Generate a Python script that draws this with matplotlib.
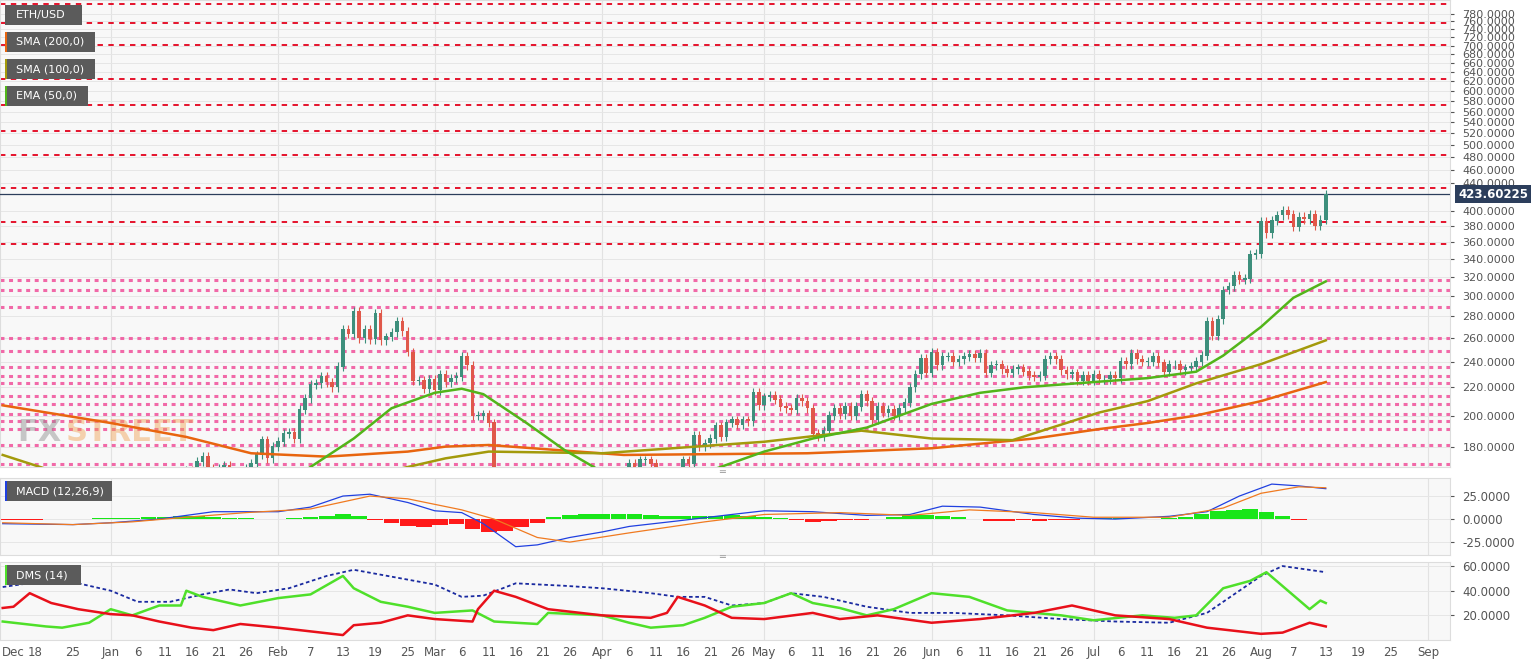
import numpy as np
import pandas as pd
import matplotlib
matplotlib.use("Agg")
import matplotlib.pyplot as plt
import matplotlib.dates as mdates
from matplotlib.patches import Rectangle

# daily closes ETH/USD, 2019-12-12 .. 2020-08-13
closes = [
    145, 142, 141, 132, 122, 133, 128, 128, 128, 127, 133, 128, 126, 125, 127, 126, 129, 134, 132, 129,
    130, 127, 134, 134, 136, 144, 143, 141, 138, 143, 146, 146, 144, 165, 166, 163, 171, 174, 167, 166,
    167, 169, 162, 162, 160, 167, 170, 175, 184, 173, 180,
    183, 188, 189, 185, 204, 212, 222, 223, 228, 224, 220, 236, 268, 264, 285, 260, 268, 259, 283, 258,
    261, 265, 275, 266, 248, 225, 225, 219, 226,
    218, 230, 224, 227, 228, 244, 237, 200, 200, 201, 195, 110, 132, 124, 123, 110, 117, 115, 133, 132,
    125, 136, 120, 136, 131, 138, 135, 130, 125, 130, 133,
    136, 141, 141, 142, 143, 170, 164, 172, 172, 170, 158, 160, 157, 154, 153, 172, 170, 187, 180, 182,
    185, 193, 186, 195, 197, 194, 197, 196, 216, 207,
    213, 214, 211, 206, 205, 204, 212, 210, 205, 188, 186, 190, 200, 205, 201, 206, 200, 206, 215, 210,
    197, 206, 202, 204, 200, 205, 209, 220, 230, 243, 231,
    248, 237, 244, 244, 240, 242, 244, 246, 243, 247, 231, 237, 238, 234, 231, 234, 235, 232, 229, 228,
    229, 242, 244, 242, 233, 230, 231, 225, 229, 225,
    230, 226, 226, 229, 227, 240, 238, 247, 242, 240, 240, 244, 239, 232, 238, 238, 233, 235, 236, 240,
    245, 275, 262, 277, 306, 310, 321, 317, 318, 345, 346,
    386, 371, 387, 394, 401, 395, 379, 392, 389, 395, 380, 388, 423.60225,
]
dates = pd.date_range("2019-12-12", periods=len(closes), freq="D")

sma200_d = ["2019-12-12", "2020-01-01", "2020-01-15", "2020-01-27", "2020-02-10", "2020-02-25", "2020-03-03",
            "2020-03-11", "2020-04-05", "2020-05-09", "2020-06-01", "2020-06-20", "2020-07-02", "2020-07-11",
            "2020-07-20", "2020-08-01", "2020-08-13"]
sma200_v = [207, 195, 186, 176, 174, 177, 180, 181, 175, 176, 179, 185, 191, 195, 200, 210, 224]
sma100_d = ["2019-12-12", "2019-12-22", "2020-01-15", "2020-02-10", "2020-02-25", "2020-03-03", "2020-03-11",
            "2020-04-01", "2020-05-01", "2020-05-19", "2020-06-01", "2020-06-16", "2020-07-02", "2020-07-11",
            "2020-07-20", "2020-08-01", "2020-08-13"]
sma100_v = [175, 165, 155, 158, 168, 173, 177, 176, 183, 190, 185, 184, 202, 210, 223, 238, 258]
ema50_d = ["2020-01-10", "2020-02-06", "2020-02-15", "2020-02-22", "2020-03-01", "2020-03-06", "2020-03-10",
           "2020-03-18", "2020-03-25", "2020-03-31", "2020-04-10", "2020-04-22", "2020-05-01", "2020-05-10",
           "2020-05-20", "2020-06-01", "2020-06-10", "2020-06-18", "2020-07-01", "2020-07-11", "2020-07-20",
           "2020-07-25", "2020-08-01", "2020-08-07", "2020-08-13"]
ema50_v = [145, 166, 185, 205, 216, 219, 215, 195, 178, 167, 155, 167, 177, 185, 192, 208, 216, 220, 224,
           227, 232, 245, 270, 298, 315]

red_levels = [805, 755, 702, 625, 572, 525, 484, 432, 385, 357]
pink_levels = [317, 306, 289, 260, 249, 236, 229, 223, 214, 208, 201, 196, 191, 181, 170]

macd_d = ["2019-12-12", "2019-12-25", "2020-01-01", "2020-01-10", "2020-01-20", "2020-01-26", "2020-02-01",
          "2020-02-07", "2020-02-13", "2020-02-18", "2020-02-25", "2020-03-01", "2020-03-06", "2020-03-10",
          "2020-03-16", "2020-03-20", "2020-03-26", "2020-04-01", "2020-04-06", "2020-04-15", "2020-04-25",
          "2020-05-01", "2020-05-10", "2020-05-20", "2020-05-28", "2020-06-03", "2020-06-10", "2020-06-20",
          "2020-06-28", "2020-07-05", "2020-07-15", "2020-07-22", "2020-07-28", "2020-08-03", "2020-08-08",
          "2020-08-13"]
macd_v = [-5, -6, -4, 0, 8, 8, 8, 13, 25, 27, 18, 9, 7, -5, -30, -28, -20, -14, -8, -2, 5, 9, 8, 4, 5, 14,
          13, 5, 1, 0, 3, 8, 25, 38, 36, 33]
signal_d = ["2019-12-12", "2019-12-25", "2020-01-05", "2020-01-15", "2020-01-26", "2020-02-07", "2020-02-18",
            "2020-02-25", "2020-03-06", "2020-03-12", "2020-03-20", "2020-03-26", "2020-04-06", "2020-04-20",
            "2020-05-01", "2020-05-15", "2020-05-28", "2020-06-08", "2020-06-20", "2020-07-01", "2020-07-15",
            "2020-07-25", "2020-08-01", "2020-08-08", "2020-08-13"]
signal_v = [-4, -6, -3, 2, 7, 11, 25, 22, 10, 0, -20, -25, -15, -3, 5, 7, 4, 10, 7, 2, 2, 12, 28, 35, 34]
# histogram, one bar every 3 days from 2019-12-12
hist_v = [-0.5, -0.5, -0.5, 0.3, 0.5, 0.5, 1, 1, 1.5, 2,
          2.5, 3, 3, 2, 1.5, 1, 0.5, 0.5, 1, 2,
          3, 5, 3, -1, -4, -8, -9, -6, -5, -11, -14, -13, -9, -4, 2, 4, 5, 5, 6, 6,
          4, 3, 3, 3, 3, 4, 3, 2, 1, -1, -3, -2, -1, -1, 0.5, 2, 4, 4, 3, 2,
          0, -2, -2, -1, -2, -1, -1, 0.5, 1, 1, 0.5, 0.5, 1, 2, 5, 9, 10, 11, 8, 3, -1]
hist_dates = pd.date_range("2019-12-12", periods=len(hist_v), freq="3D")

adx_d = ["2019-12-12", "2019-12-20", "2019-12-25", "2020-01-01", "2020-01-06", "2020-01-12", "2020-01-18",
         "2020-01-23", "2020-01-28", "2020-02-03", "2020-02-10", "2020-02-15", "2020-02-20", "2020-03-01",
         "2020-03-06", "2020-03-10", "2020-03-16", "2020-03-25", "2020-04-01", "2020-04-10", "2020-04-15",
         "2020-04-20", "2020-04-25", "2020-05-01", "2020-05-06", "2020-05-12", "2020-05-20", "2020-05-28",
         "2020-06-05", "2020-06-15", "2020-06-25", "2020-07-05", "2020-07-15", "2020-07-22", "2020-08-01",
         "2020-08-05", "2020-08-13"]
adx_v = [43, 48, 47, 40, 31, 31, 37, 41, 38, 42, 52, 57, 53, 45, 35, 36, 46, 44, 42, 38, 35, 35, 28, 30, 38,
         35, 27, 22, 22, 20, 17, 15, 14, 22, 52, 60, 55]
pdi_d = ["2019-12-12", "2019-12-20", "2019-12-23", "2019-12-28", "2020-01-01", "2020-01-05", "2020-01-10",
         "2020-01-14", "2020-01-15", "2020-01-18", "2020-01-25", "2020-02-01", "2020-02-07", "2020-02-09",
         "2020-02-13", "2020-02-15", "2020-02-20", "2020-02-25", "2020-03-01", "2020-03-08", "2020-03-12",
         "2020-03-20", "2020-03-22", "2020-04-01", "2020-04-06", "2020-04-10", "2020-04-16", "2020-04-20",
         "2020-04-25", "2020-05-01", "2020-05-06", "2020-05-10", "2020-05-15", "2020-05-20", "2020-05-25",
         "2020-06-01", "2020-06-08", "2020-06-15", "2020-06-25", "2020-07-01", "2020-07-10", "2020-07-16",
         "2020-07-20", "2020-07-25", "2020-07-30", "2020-08-02", "2020-08-06", "2020-08-10", "2020-08-12",
         "2020-08-13"]
pdi_v = [15, 11, 10, 14, 25, 20, 28, 28, 40, 35, 28, 34, 37, 42, 52, 42, 31, 27, 22, 24, 15, 13, 22, 20, 14,
         10, 12, 18, 27, 30, 38, 30, 26, 20, 25, 38, 35, 24, 20, 16, 20, 18, 20, 42, 48, 55, 40, 25, 32, 30]
mdi_d = ["2019-12-12", "2019-12-14", "2019-12-17", "2019-12-21", "2019-12-26", "2020-01-01", "2020-01-05",
         "2020-01-10", "2020-01-16", "2020-01-20", "2020-01-25", "2020-02-01", "2020-02-13", "2020-02-15",
         "2020-02-20", "2020-02-25", "2020-03-01", "2020-03-08", "2020-03-09", "2020-03-12", "2020-03-16",
         "2020-03-22", "2020-04-01", "2020-04-10", "2020-04-13", "2020-04-15", "2020-04-20", "2020-04-25",
         "2020-05-01", "2020-05-10", "2020-05-15", "2020-05-22", "2020-06-01", "2020-06-10", "2020-06-20",
         "2020-06-27", "2020-07-05", "2020-07-15", "2020-07-22", "2020-08-01", "2020-08-05", "2020-08-10",
         "2020-08-13"]
mdi_v = [26, 27, 38, 30, 25, 21, 20, 15, 10, 8, 13, 10, 4, 12, 14, 20, 17, 15, 25, 40, 35, 25, 20, 18, 22,
         35, 28, 18, 17, 22, 17, 20, 14, 17, 22, 28, 20, 17, 10, 5, 6, 14, 11]

tick_labels = ["Dec", "18", "25", "Jan", "6", "11", "16", "21", "26", "Feb", "7", "13", "19", "25", "Mar",
               "6", "11", "16", "21", "26", "Apr", "6", "11", "16", "21", "26", "May", "6", "11", "16", "21",
               "26", "Jun", "6", "11", "16", "21", "26", "Jul", "6", "11", "16", "21", "26", "Aug", "7", "13",
               "19", "25", "Sep"]
tick_dates = ["2019-12-14", "2019-12-18", "2019-12-25", "2020-01-01", "2020-01-06", "2020-01-11",
              "2020-01-16", "2020-01-21", "2020-01-26", "2020-02-01", "2020-02-07", "2020-02-13",
              "2020-02-19", "2020-02-25", "2020-03-01", "2020-03-06", "2020-03-11", "2020-03-16",
              "2020-03-21", "2020-03-26", "2020-04-01", "2020-04-06", "2020-04-11", "2020-04-16",
              "2020-04-21", "2020-04-26", "2020-05-01", "2020-05-06", "2020-05-11", "2020-05-16",
              "2020-05-21", "2020-05-26", "2020-06-01", "2020-06-06", "2020-06-11", "2020-06-16",
              "2020-06-21", "2020-06-26", "2020-07-01", "2020-07-06", "2020-07-11", "2020-07-16",
              "2020-07-21", "2020-07-26", "2020-08-01", "2020-08-07", "2020-08-13", "2020-08-19",
              "2020-08-25", "2020-09-01"]

W, H = 1534, 662
fig = plt.figure(figsize=(W / 100, H / 100), dpi=100)
fig.patch.set_facecolor("white")


def px_axes(x0, y0, x1, y1):
    return fig.add_axes([x0 / W, 1 - y1 / H, (x1 - x0) / W, (y1 - y0) / H])


ax = px_axes(0, 0, 1450, 467)
axm = px_axes(0, 478, 1450, 555)
axd = px_axes(0, 562, 1450, 640)

fmt4 = matplotlib.ticker.FuncFormatter(lambda v, p: f"{v:.4f}")
xlim = (pd.Timestamp("2019-12-11 12:00"), pd.Timestamp("2020-09-05"))
month_starts = pd.date_range("2020-01-01", "2020-09-01", freq="MS")
for a in (ax, axm, axd):
    a.set_facecolor("#f8f8f8")
    a.set_xlim(xlim)
    for s in a.spines.values():
        s.set_color("#dddddd")
    a.yaxis.tick_right()
    a.tick_params(axis="y", labelsize=8.5, colors="#555555", length=3, pad=6)
    a.tick_params(axis="x", length=0)
    for m in month_starts:
        a.axvline(m, color="#e2e2e2", lw=0.8, zorder=0)

# main candles
c = np.array(closes, dtype=float)
o = np.concatenate([[c[0]], c[:-1]])
hi = np.maximum(o, c) * 1.015
lo = np.minimum(o, c) * 0.985
up = c >= o
dn = mdates.date2num(dates)
cols = np.where(up, "#3d8f7c", "#e0584a")
ax.vlines(dn, lo, hi, colors=cols, lw=0.8, zorder=3)
ax.bar(dn, np.abs(c - o) + 0.4, bottom=np.minimum(o, c), width=0.65, color=cols, zorder=4)

ax.set_yscale("log")
ax.set_ylim(168, 817)
yt = list(range(180, 420, 20)) + list(range(440, 800, 20))
ax.yaxis.set_major_locator(matplotlib.ticker.FixedLocator(yt))
ax.yaxis.set_minor_locator(matplotlib.ticker.NullLocator())
ax.yaxis.set_major_formatter(fmt4)
ax.tick_params(axis="y", labelsize=8)
for v in yt:
    ax.axhline(v, color="#e6e6e6", lw=0.7, zorder=0)
for v in red_levels:
    ax.axhline(v, color="#e3001b", lw=1.3, ls=(0, (3, 3)), zorder=2)
for v in pink_levels:
    ax.axhline(v, color="#f0509a", lw=2.2, ls=(0, (1.3, 1.5)), alpha=0.85, zorder=2)

ax.plot(pd.to_datetime(sma200_d), sma200_v, color="#e8650f", lw=1.8, zorder=5)
ax.plot(pd.to_datetime(sma100_d), sma100_v, color="#a39a0b", lw=1.8, zorder=5)
ax.plot(pd.to_datetime(ema50_d), ema50_v, color="#52b51a", lw=1.8, zorder=5)
ax.axhline(closes[-1], color="#2c3e5c", lw=0.9, zorder=3)
ax.set_xticks([])
ax.text(0.012, 0.055, "FX", transform=ax.transAxes, fontsize=22, color="#8a8a8a", alpha=0.45,
        fontweight="bold")
ax.text(0.045, 0.055, "STREET", transform=ax.transAxes, fontsize=22, color="#f0a050", alpha=0.45,
        fontweight="bold")

# MACD
hn = mdates.date2num(hist_dates)
hv = np.array(hist_v)
axm.bar(hn, hv, width=2.9, color=np.where(hv >= 0, "#19e619", "#ff1a1a"), zorder=2)
axm.plot(pd.to_datetime(macd_d), macd_v, color="#2040e0", lw=0.9, zorder=3)
axm.plot(pd.to_datetime(signal_d), signal_v, color="#f07a20", lw=0.9, zorder=3)
axm.set_ylim(-39, 44.6)
axm.set_yticks([-25, 0, 25])
axm.yaxis.set_major_formatter(fmt4)
for v in (-25, 0, 25):
    axm.axhline(v, color="#e6e6e6", lw=0.7, zorder=0)
axm.set_xticks([])

# DMS
axd.plot(pd.to_datetime(adx_d), adx_v, color="#1a2aa0", lw=1.3, ls=(0, (2, 1.5)), zorder=3)
axd.plot(pd.to_datetime(pdi_d), pdi_v, color="#4fe02a", lw=1.8, zorder=3)
axd.plot(pd.to_datetime(mdi_d), mdi_v, color="#e8101a", lw=1.8, zorder=3)
axd.set_ylim(0, 63.3)
axd.set_yticks([20, 40, 60])
axd.yaxis.set_major_formatter(fmt4)
for v in (20, 40, 60):
    axd.axhline(v, color="#e6e6e6", lw=0.7, zorder=0)
axd.set_xticks(pd.to_datetime(tick_dates))
axd.set_xticklabels(tick_labels, fontsize=8.5, color="#555555")
axd.tick_params(axis="x", pad=4)


# label boxes
def label(x0, y0, w, txt, strip):
    fig.add_artist(Rectangle((x0 / W, 1 - (y0 + 20) / H), w / W, 20 / H, transform=fig.transFigure,
                             facecolor="#5b5b5b", edgecolor="none", zorder=10))
    fig.add_artist(Rectangle((x0 / W, 1 - (y0 + 20) / H), 2 / W, 20 / H, transform=fig.transFigure,
                             facecolor=strip, edgecolor="none", zorder=11))
    fig.text((x0 + 11) / W, 1 - (y0 + 10) / H, txt, color="white", fontsize=8, va="center", zorder=12)


label(5, 5, 77, "ETH/USD", "#5b5b5b")
label(5, 32, 90, "SMA (200,0)", "#e8650f")
label(5, 59, 90, "SMA (100,0)", "#a39a0b")
label(5, 86, 83, "EMA (50,0)", "#52b51a")
label(5, 481, 107, "MACD (12,26,9)", "#2040e0")
label(5, 565, 76, "DMS (14)", "#4fe02a")

# last price tag
fig.text(1493 / W, 1 - 194 / H, f"{closes[-1]:.5f}", color="white", fontsize=8.5, fontweight="bold",
         ha="center", va="center", zorder=12,
         bbox=dict(boxstyle="square,pad=0.25", facecolor="#2c3e5c", edgecolor="none"))

# pane separators
for y in (472, 557):
    fig.text(722 / W, 1 - y / H, "═", fontsize=7, color="#999999", ha="center", va="center")

plt.savefig("out.png", dpi=100)
